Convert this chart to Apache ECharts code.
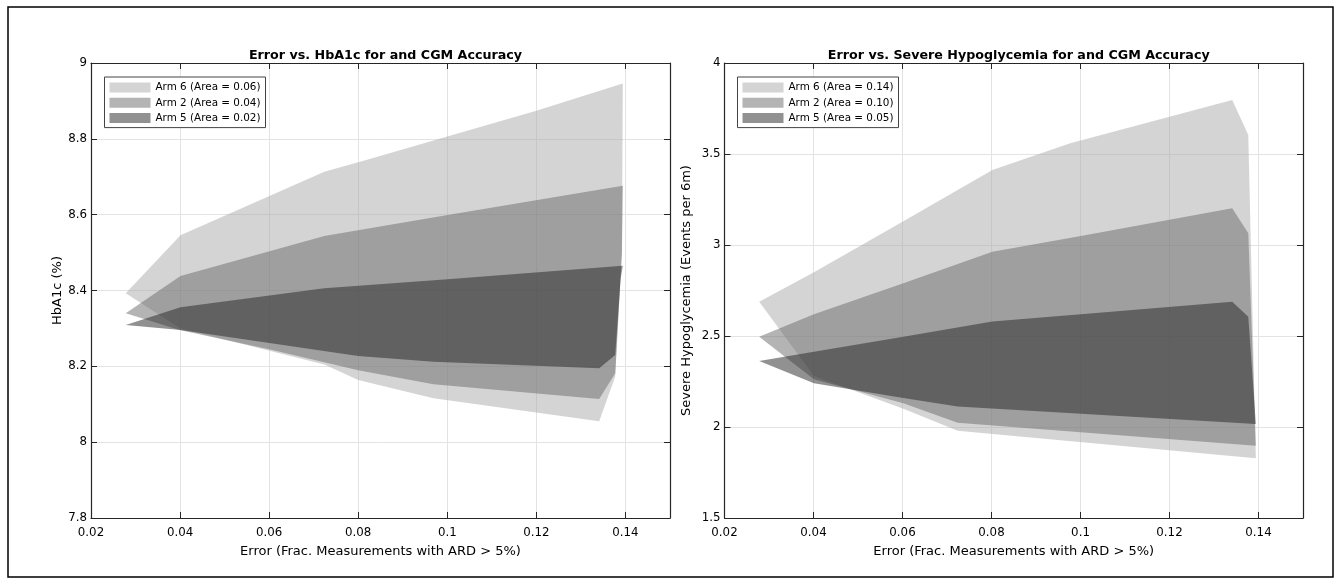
<!DOCTYPE html>
<html>
<head>
<meta charset="utf-8">
<script src="https://cdn.jsdelivr.net/npm/echarts@6/dist/echarts.min.js"></script>
<style>
  html, body { margin: 0; padding: 0; background: #fff; }
  #chart { width: 1341px; height: 584px; }
</style>
</head>
<body>
<div id="chart"></div>
<script>
// ---- Axis ticks ----
const xTicks = { min: 0.02, max: 0.15, interval: 0.02 };
const yTicksHbA1c = { min: 7.8, max: 9, interval: 0.2 };
const yTicksHypo = { min: 1.5, max: 4, interval: 0.5 };

// ---- Legend names ----
const namesHbA1c = ['Arm 6 (Area = 0.06)', 'Arm 2 (Area = 0.04)', 'Arm 5 (Area = 0.02)'];
const namesHypo = ['Arm 6 (Area = 0.14)', 'Arm 2 (Area = 0.10)', 'Arm 5 (Area = 0.05)'];

// ---- HbA1c panel: envelope of each arm (upper edge, then lower edge, both left→right) ----
const hba1cArm6Upper = [[0.0278, 8.393], [0.0401, 8.546], [0.0724, 8.713], [0.082, 8.745], [0.100, 8.806], [0.120, 8.874], [0.1394, 8.946]];
const hba1cArm6Lower = [[0.0278, 8.393], [0.0401, 8.300], [0.0724, 8.205], [0.080, 8.164], [0.0969, 8.116], [0.1341, 8.055], [0.1377, 8.173], [0.1392, 8.500]];
const hba1cArm2Upper = [[0.0278, 8.340], [0.0401, 8.438], [0.0724, 8.544], [0.1001, 8.599], [0.1394, 8.676]];
const hba1cArm2Lower = [[0.0278, 8.340], [0.0401, 8.295], [0.060, 8.245], [0.080, 8.190], [0.0969, 8.153], [0.1341, 8.114], [0.1377, 8.182], [0.1392, 8.500]];
const hba1cArm5Upper = [[0.0278, 8.309], [0.0401, 8.356], [0.0724, 8.406], [0.1001, 8.430], [0.1394, 8.465]];
const hba1cArm5Lower = [[0.0278, 8.309], [0.0401, 8.296], [0.080, 8.227], [0.0969, 8.212], [0.1341, 8.195], [0.1377, 8.230], [0.1389, 8.430]];

// ---- Severe hypoglycemia panel ----
const hypoArm6Upper = [[0.0278, 2.688], [0.0401, 2.850], [0.0602, 3.130], [0.0802, 3.412], [0.0977, 3.559], [0.1341, 3.797], [0.1377, 3.604]];
const hypoArm6Lower = [[0.0278, 2.688], [0.0401, 2.280], [0.0602, 2.100], [0.0724, 1.980], [0.1394, 1.828]];
const hypoArm2Upper = [[0.0278, 2.496], [0.0401, 2.620], [0.0602, 2.790], [0.0802, 2.963], [0.1001, 3.049], [0.1341, 3.202], [0.1377, 3.064]];
const hypoArm2Lower = [[0.0278, 2.496], [0.0401, 2.262], [0.0602, 2.130], [0.0724, 2.024], [0.1394, 1.897]];
const hypoArm5Upper = [[0.0278, 2.363], [0.0401, 2.414], [0.0602, 2.496], [0.0802, 2.579], [0.1001, 2.619], [0.1341, 2.688], [0.1377, 2.606]];
const hypoArm5Lower = [[0.0278, 2.363], [0.0401, 2.240], [0.0602, 2.160], [0.0724, 2.112], [0.1394, 2.016]];

// Semi-transparent grays, so overlaps darken
const armColors = ['rgba(170,170,170,0.5)', 'rgba(105,105,105,0.5)', 'rgba(35,35,35,0.5)'];

const FONT = 'DejaVu Sans';
const AXIS_COLOR = '#262626';
const GRID_COLOR = '#e3e3e3';

// closed outline: upper edge left→right, then lower edge right→left
function envelope(upper, lower) {
  return upper.concat(lower.slice().reverse());
}

function polygonSeries(name, pts, color, axisIdx) {
  return {
    type: 'custom',
    name: name,
    xAxisIndex: axisIdx,
    yAxisIndex: axisIdx,
    silent: true,
    itemStyle: { color: color },
    encode: { x: 0, y: 1 },
    data: pts,
    renderItem: function (params, api) {
      if (params.dataIndex !== 0) return null;
      return {
        type: 'polygon',
        shape: { points: pts.map(function (p) { return api.coord(p); }) },
        style: { fill: color, stroke: null }
      };
    }
  };
}

const grids = [
  { left: 91, top: 63, width: 579, height: 455 },
  { left: 724.5, top: 63, width: 578.5, height: 455 }
];

function xAxes(gridIndex) {
  const base = {
    gridIndex: gridIndex, type: 'value',
    min: xTicks.min, max: xTicks.max, interval: xTicks.interval,
    axisLine: { show: true, onZero: false, lineStyle: { color: AXIS_COLOR, width: 1.2 } },
    axisTick: { show: true, inside: true, length: 6, lineStyle: { color: AXIS_COLOR } }
  };
  return [
    Object.assign({}, base, {
      position: 'bottom',
      name: 'Error (Frac. Measurements with ARD > 5%)',
      nameLocation: 'middle', nameGap: 27.5,
      nameTextStyle: { fontFamily: FONT, fontSize: 13, color: '#000' },
      axisLabel: { fontFamily: FONT, fontSize: 11.8, color: '#000', margin: 9, showMaxLabel: false },
      splitLine: { show: true, lineStyle: { color: GRID_COLOR, width: 1 } }
    }),
    Object.assign({}, base, {
      position: 'top',
      axisLabel: { show: false },
      splitLine: { show: false }
    })
  ];
}

function yAxes(gridIndex, ticks, name, nameGap) {
  const base = {
    gridIndex: gridIndex, type: 'value',
    min: ticks.min, max: ticks.max, interval: ticks.interval,
    axisLine: { show: true, onZero: false, lineStyle: { color: AXIS_COLOR, width: 1.2 } },
    axisTick: { show: true, inside: true, length: 6, lineStyle: { color: AXIS_COLOR } }
  };
  return [
    Object.assign({}, base, {
      position: 'left',
      name: name, nameLocation: 'middle', nameGap: nameGap,
      nameTextStyle: { fontFamily: FONT, fontSize: 13, color: '#000' },
      axisLabel: { fontFamily: FONT, fontSize: 11.8, color: '#000', margin: 4 },
      splitLine: { show: true, lineStyle: { color: GRID_COLOR, width: 1 } }
    }),
    Object.assign({}, base, {
      position: 'right',
      axisLabel: { show: false },
      splitLine: { show: false }
    })
  ];
}

function legendFor(names, left) {
  return {
    data: names,
    orient: 'vertical',
    left: left, top: 77,
    icon: 'rect',
    itemWidth: 41, itemHeight: 10,
    itemGap: 3.3,
    padding: [4.5, 5, 3.5, 5],
    borderColor: '#444', borderWidth: 1,
    backgroundColor: '#fff',
    selectedMode: false,
    textStyle: { fontFamily: FONT, fontSize: 10.4, color: '#000', lineHeight: 12 }
  };
}

const series = [
  polygonSeries(namesHbA1c[0], envelope(hba1cArm6Upper, hba1cArm6Lower), armColors[0], 0),
  polygonSeries(namesHbA1c[1], envelope(hba1cArm2Upper, hba1cArm2Lower), armColors[1], 0),
  polygonSeries(namesHbA1c[2], envelope(hba1cArm5Upper, hba1cArm5Lower), armColors[2], 0),
  polygonSeries(namesHypo[0], envelope(hypoArm6Upper, hypoArm6Lower), armColors[0], 2),
  polygonSeries(namesHypo[1], envelope(hypoArm2Upper, hypoArm2Lower), armColors[1], 2),
  polygonSeries(namesHypo[2], envelope(hypoArm5Upper, hypoArm5Lower), armColors[2], 2)
];

const chart = echarts.init(document.getElementById('chart'), null, { renderer: 'canvas' });
chart.setOption({
  backgroundColor: '#fff',
  animation: false,
  title: [
    { text: 'Error vs. HbA1c for and CGM Accuracy', left: 380.5, top: 44, textAlign: 'center',
      textStyle: { fontFamily: FONT, fontSize: 12.7, fontWeight: 'bold', color: '#000' } },
    { text: 'Error vs. Severe Hypoglycemia for and CGM Accuracy', left: 1013.75, top: 44, textAlign: 'center',
      textStyle: { fontFamily: FONT, fontSize: 12.7, fontWeight: 'bold', color: '#000' } }
  ],
  legend: [legendFor(namesHbA1c, 104.5), legendFor(namesHypo, 737.5)],
  grid: grids,
  xAxis: xAxes(0).concat(xAxes(1)),
  yAxis: yAxes(0, yTicksHbA1c, 'HbA1c (%)', 27).concat(yAxes(1, yTicksHypo, 'Severe Hypoglycemia (Events per 6m)', 31)),
  series: series,
  graphic: [
    { type: 'rect', silent: true, z: 100,
      shape: { x: 8, y: 7, width: 1325, height: 570 },
      style: { fill: null, stroke: '#000', lineWidth: 1.5 } }
  ]
});
</script>
</body>
</html>
